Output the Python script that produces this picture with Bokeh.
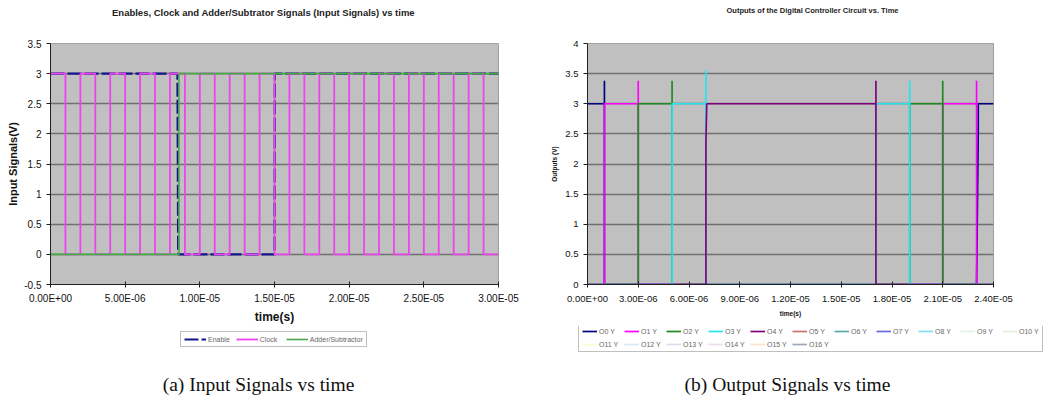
import numpy as np
from bokeh.plotting import figure
from bokeh.models import FixedTicker, Range1d, Legend, LegendItem, Label, ColumnDataSource
from bokeh.layouts import row, column
from bokeh.embed import file_html
from bokeh.resources import INLINE

# ---------------- Left chart data (time in microseconds) ----------------
left_title = "Enables, Clock and Adder/Subtrator Signals (Input Signals) vs time"
left_caption = "(a) Input Signals vs time"
left_xlabel = "time(s)"
left_ylabel = "Input Signals(V)"
left_x_ticks = [0.0, 5e-06, 1e-05, 1.5e-05, 2e-05, 2.5e-05, 3e-05]
left_x_labels = ["0.00E+00", "5.00E-06", "1.00E-05", "1.50E-05", "2.00E-05", "2.50E-05", "3.00E-05"]
left_y_ticks = [-0.5, 0.0, 0.5, 1.0, 1.5, 2.0, 2.5, 3.0, 3.5]
left_y_labels = ["-0.5", "0", "0.5", "1", "1.5", "2", "2.5", "3", "3.5"]

enable_t_us = [0, 8.5, 8.55, 15.0, 15.02, 30]
enable_v = [3, 3, 0, 0, 3, 3]

clock_t_us = [0,
              1, 1, 2, 2, 3, 3, 4, 4, 5, 5, 6, 6, 7, 7, 8, 8, 9, 9, 10, 10,
              11, 11, 12, 12, 13, 13, 14, 14, 15, 15, 16, 16, 17, 17, 18, 18, 19, 19, 20, 20,
              21, 21, 22, 22, 23, 23, 24, 24, 25, 25, 26, 26, 27, 27, 28, 28, 29, 29,
              30]
clock_v = [3,
           3, 0, 0, 3, 3, 0, 0, 3, 3, 0, 0, 3, 3, 0, 0, 3, 3, 0, 0, 3,
           3, 0, 0, 3, 3, 0, 0, 3, 3, 0, 0, 3, 3, 0, 0, 3, 3, 0, 0, 3,
           3, 0, 0, 3, 3, 0, 0, 3, 3, 0, 0, 3, 3, 0, 0, 3, 3, 0,
           0]

addsub_t_us = [0, 8.6, 8.6, 30]
addsub_v = [0, 0, 3, 3]

left_series = ["Enable", "Clock", "Adder/Subtractor"]
left_colors = ["#14148c", "#ee44ee", "#4aa84a"]
left_dash = ["14 3", "solid", "solid"]
left_width = [2.2, 1.8, 1.6]

# ---------------- Right chart data (time in microseconds) ----------------
right_title = "Outputs of the Digital Controller Circuit vs. Time"
right_caption = "(b) Output Signals vs time"
right_xlabel = "time(s)"
right_ylabel = "Outputs (V)"
right_x_ticks = [0.0, 3e-06, 6e-06, 9e-06, 1.2e-05, 1.5e-05, 1.8e-05, 2.1e-05, 2.4e-05]
right_x_labels = ["0.00E+00", "3.00E-06", "6.00E-06", "9.00E-06", "1.20E-05",
                  "1.50E-05", "1.80E-05", "2.10E-05", "2.40E-05"]
right_y_ticks = [0.0, 0.5, 1.0, 1.5, 2.0, 2.5, 3.0, 3.5, 4.0]
right_y_labels = ["0", "0.5", "1", "1.5", "2", "2.5", "3", "3.5", "4"]

o0_t_us = [0, 1.0, 1.0, 1.0, 23.0, 23.1, 23.1, 24]
o0_v = [3, 3, 3.38, 0, 0, 2.6, 3, 3]
o1_t_us = [0, 1.0, 1.0, 3.0, 3.0, 3.0, 21.0, 21.0, 23.0, 23.0, 23.0, 24]
o1_v = [0, 0, 3, 3, 3.38, 0, 0, 3, 3, 3.38, 0, 0]
o2_t_us = [0, 3.0, 3.0, 5.0, 5.0, 5.0, 19.05, 19.05, 21.0, 21.0, 21.0, 24]
o2_v = [0, 0, 3, 3, 3.38, 0, 0, 3, 3, 3.38, 0, 0]
o3_t_us = [0, 5.0, 5.0, 7.0, 7.0, 7.0, 17.05, 17.05, 19.05, 19.05, 19.05, 24]
o3_v = [0, 0, 3, 3, 3.55, 0, 0, 3, 3, 3.38, 0, 0]
o4_t_us = [0, 7.0, 7.0, 7.05, 17.05, 17.05, 17.05, 24]
o4_v = [0, 0, 2.35, 3, 3, 3.38, 0, 0]

right_series = ["O0 Y", "O1 Y", "O2 Y", "O3 Y", "O4 Y", "O5 Y", "O6 Y", "O7 Y", "O8 Y",
                "O9 Y", "O10 Y", "O11 Y", "O12 Y", "O13 Y", "O14 Y", "O15 Y", "O16 Y"]
right_colors = ["#000080", "#ff00ff", "#1f8a1f", "#22e6f0", "#800080", "#cc7070", "#5aaaaa",
                "#6a6ae0", "#7ee0f8", "#e6f2e6", "#e2f0da", "#fcfccc", "#d4e8f6", "#dcdcee",
                "#ecdcec", "#fde4c6", "#9aaaba"]
# only O0..O4 carry visible data; O5..O16 appear in the legend only
right_data_t = [o0_t_us, o1_t_us, o2_t_us, o3_t_us, o4_t_us]
right_data_v = [o0_v, o1_v, o2_v, o3_v, o4_v]

FONT = "Liberation Sans"
SERIF = "Liberation Serif"
PLOT_BG = "#c0c0c0"
GRID = "#707070"
HEAD_H = 30
MAIN_H = 296
FOOT_H = 75


def style_fig(p, x_ticks, x_labels, y_ticks, y_labels, xlabel, ylabel, tick_fs, axlab_fs, xlab_fs):
    p.background_fill_color = PLOT_BG
    p.border_fill_color = "white"
    p.outline_line_color = "#a0a0a0"
    p.xgrid.visible = False
    p.ygrid.grid_line_color = GRID
    p.ygrid.grid_line_width = 1.5
    for ax in (p.xaxis[0], p.yaxis[0]):
        ax.axis_line_color = "#202020"
        ax.major_tick_line_color = "#202020"
        ax.minor_tick_line_color = None
        ax.major_label_text_font = FONT
        ax.major_label_text_font_size = tick_fs
        ax.major_label_text_color = "#111111"
        ax.axis_label_text_font = FONT
        ax.axis_label_text_font_style = "bold"
        ax.axis_label_text_color = "#111111"
    p.xaxis.ticker = FixedTicker(ticks=x_ticks)
    p.xaxis.major_label_overrides = {t: l for t, l in zip(x_ticks, x_labels)}
    p.yaxis.ticker = FixedTicker(ticks=y_ticks)
    p.yaxis.major_label_overrides = {t: l for t, l in zip(y_ticks, y_labels)}
    p.xaxis.axis_label = xlabel
    p.yaxis.axis_label = ylabel
    p.xaxis.axis_label_text_font_size = xlab_fs
    p.yaxis.axis_label_text_font_size = axlab_fs
    p.xaxis.major_tick_in = 3
    p.xaxis.major_tick_out = 3
    p.yaxis.major_tick_in = 0
    p.yaxis.major_tick_out = 4


def blank_fig(width, height):
    f = figure(width=width, height=height, output_backend="svg", toolbar_location=None,
               x_range=Range1d(1, 2), y_range=Range1d(10, 11),
               x_axis_location=None, y_axis_location=None, min_border=0,
               min_border_left=0, min_border_right=0, min_border_top=0, min_border_bottom=0)
    f.xgrid.visible = False
    f.ygrid.visible = False
    f.outline_line_color = None
    f.background_fill_color = "white"
    f.border_fill_color = "white"
    return f


# ---------------- Header with both chart titles ----------------
head = blank_fig(1045, HEAD_H)
head.add_layout(Label(x=263, y=18, x_units="screen", y_units="screen", text=left_title,
                      text_align="center", text_baseline="middle", text_font=FONT,
                      text_font_size="9.5px", text_font_style="bold", text_color="#222222"))
head.add_layout(Label(x=812, y=20, x_units="screen", y_units="screen", text=right_title,
                      text_align="center", text_baseline="middle", text_font=FONT,
                      text_font_size="7.5px", text_font_style="bold", text_color="#222222"))

# ---------------- Left main figure ----------------
p1 = figure(width=520, height=MAIN_H, output_backend="svg", toolbar_location=None,
            x_range=Range1d(0, 3e-05), y_range=Range1d(-0.5, 3.5),
            min_border_left=50, min_border_right=22, min_border_top=13, min_border_bottom=41)
style_fig(p1, left_x_ticks, left_x_labels, left_y_ticks, left_y_labels,
          left_xlabel, left_ylabel, "10px", "11px", "12px")
p1.yaxis.axis_label_standoff = 2
p1.xaxis.axis_label_standoff = 3

left_t = [enable_t_us, clock_t_us, addsub_t_us]
left_v = [enable_v, clock_v, addsub_v]
left_sources = []
for name, tt, vv, c, d, w in zip(left_series, left_t, left_v, left_colors, left_dash, left_width):
    src = ColumnDataSource(dict(t=np.array(tt, dtype=float) * 1e-6, v=vv))
    left_sources.append(src)
    p1.line("t", "v", source=src, line_color=c, line_width=w, line_dash=d)

# ---------------- Right main figure ----------------
p2 = figure(width=525, height=MAIN_H, output_backend="svg", toolbar_location=None,
            x_range=Range1d(0, 2.4e-05), y_range=Range1d(0, 4),
            min_border_left=67, min_border_right=52, min_border_top=13, min_border_bottom=41)
style_fig(p2, right_x_ticks, right_x_labels, right_y_ticks, right_y_labels,
          right_xlabel, right_ylabel, "9.5px", "6.5px", "6.5px")
p2.yaxis.axis_label_standoff = 4
p2.xaxis.axis_label_standoff = 3

right_sources = []
for i, name in enumerate(right_series):
    if i < len(right_data_t):
        src = ColumnDataSource(dict(t=np.array(right_data_t[i], dtype=float) * 1e-6, v=right_data_v[i]))
        p2.line("t", "v", source=src, line_color=right_colors[i], line_width=1.7)
    else:
        src = None
    right_sources.append(src)

# ---------------- Footer: legends + captions ----------------
foot = blank_fig(1045, FOOT_H)
items1 = []
for name, src, c, d, w in zip(left_series, left_sources, left_colors, left_dash, left_width):
    r = foot.line("t", "v", source=src, line_color=c, line_width=w, line_dash=d)
    items1.append(LegendItem(label=name, renderers=[r]))
leg1 = Legend(items=items1, orientation="horizontal", location=(180, 54),
              label_text_font=FONT, label_text_font_size="7px", label_text_color="#666666",
              glyph_width=22, glyph_height=8, label_standoff=2, spacing=6, padding=3, margin=0,
              border_line_color="#808080", border_line_width=1.2,
              background_fill_color="white", label_height=8)
foot.add_layout(leg1)

items2 = []
for name, src, c in zip(right_series, right_sources, right_colors):
    if src is None:
        # legend-only series: no samples visible in the chart
        src = ColumnDataSource(dict(t=[5.0], v=[5.0]))
    r = foot.line("t", "v", source=src, line_color=c, line_width=1.7)
    items2.append(LegendItem(label=name, renderers=[r]))
leg2 = Legend(items=items2, orientation="horizontal", location=(578, 49), ncols=11,
              label_text_font=FONT, label_text_font_size="7px", label_text_color="#666666",
              glyph_width=15, glyph_height=8, label_standoff=2, spacing=5, padding=3, margin=0,
              border_line_color="#808080", border_line_width=1.2,
              background_fill_color="white", label_height=8)
foot.add_layout(leg2)

foot.add_layout(Label(x=258, y=17, x_units="screen", y_units="screen", text=left_caption,
                      text_align="center", text_baseline="middle", text_font=SERIF,
                      text_font_size="19.5px", text_color="#111111"))
foot.add_layout(Label(x=787, y=17, x_units="screen", y_units="screen", text=right_caption,
                      text_align="center", text_baseline="middle", text_font=SERIF,
                      text_font_size="19.5px", text_color="#111111"))

layout = column(head, row(p1, p2), foot)
open("out.html", "w").write(file_html(layout, INLINE))
